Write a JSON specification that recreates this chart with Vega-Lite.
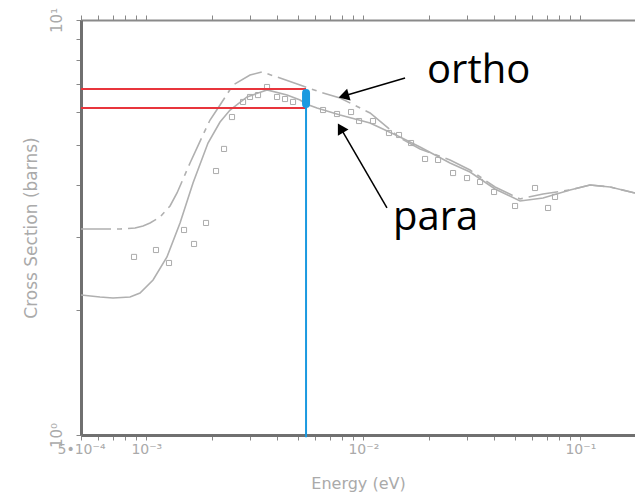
{
  "$schema": "https://vega.github.io/schema/vega-lite/v6.json",
  "width": 554,
  "height": 415,
  "autosize": {"type": "none"},
  "padding": {"left": 81, "top": 20, "right": 0, "bottom": 63},
  "background": "white",
  "config": {"view": {"stroke": null}},
  "datasets": {
    "ortho": [
      {"E": 0.0005, "sigma": 3.136}, {"E": 0.0006117, "sigma": 3.136}, {"E": 0.0007563, "sigma": 3.136},
      {"E": 0.000887, "sigma": 3.154}, {"E": 0.0009656, "sigma": 3.189}, {"E": 0.00104, "sigma": 3.243},
      {"E": 0.001156, "sigma": 3.352}, {"E": 0.001286, "sigma": 3.563}, {"E": 0.001385, "sigma": 3.83},
      {"E": 0.00159, "sigma": 4.523}, {"E": 0.001806, "sigma": 5.226}, {"E": 0.001966, "sigma": 5.741},
      {"E": 0.002186, "sigma": 6.24}, {"E": 0.002509, "sigma": 6.973}, {"E": 0.003005, "sigma": 7.369},
      {"E": 0.003414, "sigma": 7.493}, {"E": 0.004003, "sigma": 7.288}, {"E": 0.00511, "sigma": 6.973},
      {"E": 0.006317, "sigma": 6.707}, {"E": 0.00781, "sigma": 6.486}, {"E": 0.01074, "sigma": 5.97},
      {"E": 0.01476, "sigma": 5.196}, {"E": 0.01825, "sigma": 4.89}, {"E": 0.02509, "sigma": 4.6},
      {"E": 0.03102, "sigma": 4.351}, {"E": 0.04046, "sigma": 3.959}, {"E": 0.05274, "sigma": 3.705},
      {"E": 0.06732, "sigma": 3.809}, {"E": 0.08964, "sigma": 3.894}, {"E": 0.1108, "sigma": 4.004},
      {"E": 0.1371, "sigma": 3.959}, {"E": 0.1786, "sigma": 3.83}
    ],
    "para": [
      {"E": 0.0005, "sigma": 2.175}, {"E": 0.0006117, "sigma": 2.151}, {"E": 0.0007022, "sigma": 2.139},
      {"E": 0.0008411, "sigma": 2.151}, {"E": 0.0009354, "sigma": 2.199}, {"E": 0.001074, "sigma": 2.363},
      {"E": 0.001245, "sigma": 2.686}, {"E": 0.00143, "sigma": 3.243}, {"E": 0.001641, "sigma": 4.049},
      {"E": 0.001924, "sigma": 5.053}, {"E": 0.002186, "sigma": 5.677}, {"E": 0.002431, "sigma": 6.069},
      {"E": 0.002911, "sigma": 6.524}, {"E": 0.003599, "sigma": 6.784}, {"E": 0.004451, "sigma": 6.594},
      {"E": 0.00511, "sigma": 6.415}, {"E": 0.005445, "sigma": 6.274}, {"E": 0.006118, "sigma": 6.137},
      {"E": 0.00781, "sigma": 5.902}, {"E": 0.01074, "sigma": 5.646}, {"E": 0.01476, "sigma": 5.226},
      {"E": 0.01825, "sigma": 4.943}, {"E": 0.02509, "sigma": 4.523}, {"E": 0.03102, "sigma": 4.302},
      {"E": 0.04046, "sigma": 3.915}, {"E": 0.05274, "sigma": 3.664}, {"E": 0.06732, "sigma": 3.725},
      {"E": 0.08964, "sigma": 3.894}, {"E": 0.1108, "sigma": 4.004}, {"E": 0.1371, "sigma": 3.959},
      {"E": 0.1786, "sigma": 3.83}
    ],
    "measured": [
      {"E": 0.0008777, "sigma": 2.686}, {"E": 0.001108, "sigma": 2.791}, {"E": 0.001272, "sigma": 2.597},
      {"E": 0.001492, "sigma": 3.119}, {"E": 0.001659, "sigma": 2.886}, {"E": 0.001884, "sigma": 3.243},
      {"E": 0.002095, "sigma": 4.326}, {"E": 0.002281, "sigma": 4.89}, {"E": 0.002482, "sigma": 5.837},
      {"E": 0.002791, "sigma": 6.346}, {"E": 0.003005, "sigma": 6.524}, {"E": 0.003271, "sigma": 6.594},
      {"E": 0.003599, "sigma": 6.895}, {"E": 0.004003, "sigma": 6.524}, {"E": 0.004357, "sigma": 6.45},
      {"E": 0.004743, "sigma": 6.346}, {"E": 0.006521, "sigma": 6.069}, {"E": 0.007565, "sigma": 5.936},
      {"E": 0.008777, "sigma": 6.002}, {"E": 0.009555, "sigma": 5.709}, {"E": 0.01108, "sigma": 5.709},
      {"E": 0.01313, "sigma": 5.342}, {"E": 0.0146, "sigma": 5.283}, {"E": 0.01659, "sigma": 5.053},
      {"E": 0.01925, "sigma": 4.625}, {"E": 0.0221, "sigma": 4.6}, {"E": 0.02591, "sigma": 4.278},
      {"E": 0.03005, "sigma": 4.161}, {"E": 0.03451, "sigma": 4.071}, {"E": 0.04003, "sigma": 3.851},
      {"E": 0.05002, "sigma": 3.563}, {"E": 0.06183, "sigma": 3.937}, {"E": 0.071, "sigma": 3.524},
      {"E": 0.07644, "sigma": 3.747}
    ],
    "redlines": [
      {"E": 0.0005, "E2": 0.005445, "sigma": 6.82},
      {"E": 0.0005, "E2": 0.005445, "sigma": 6.137}
    ],
    "blueline": [{"E": 0.005445, "sigma": 0.988, "sigma2": 6.6}],
    "bluebar": [{"E": 0.005445, "sigma": 6.274, "sigma2": 6.67}],
    "arrows": [
      {"name": "ortho", "E": 0.01557, "sigma": 7.25, "E2": 0.008124, "sigma2": 6.559},
      {"name": "para", "E": 0.01285, "sigma": 3.524, "E2": 0.007851, "sigma2": 5.493}
    ],
    "headOrtho": [{"E": 0.008124, "sigma": 6.559}],
    "headPara": [{"E": 0.007851, "sigma": 5.493}],
    "labels": [
      {"label": "ortho", "E": 0.01966, "sigma": 7.051},
      {"label": "para", "E": 0.01371, "sigma": 3.119}
    ]
  },
  "layer": [
    {
      "data": {"name": "ortho"},
      "mark": {"type": "line", "color": "#b0b0b0", "strokeWidth": 1.6, "strokeDash": [30, 6, 5, 6], "clip": true},
      "encoding": {
        "x": {
          "field": "E", "type": "quantitative",
          "scale": {"type": "log", "domain": [0.0005, 0.1786], "nice": false},
          "axis": {
            "orient": "bottom",
            "values": [0.0005, 0.0006, 0.0007, 0.0008, 0.0009, 0.001, 0.002, 0.003, 0.004, 0.005, 0.006, 0.007, 0.008, 0.009, 0.01, 0.02, 0.03, 0.04, 0.05, 0.06, 0.07, 0.08, 0.09, 0.1],
            "labelExpr": "abs(datum.value-0.0005)<1e-9 ? '5•10⁻⁴' : abs(datum.value-0.001)<1e-9 ? '10⁻³' : abs(datum.value-0.01)<1e-9 ? '10⁻²' : abs(datum.value-0.1)<1e-9 ? '10⁻¹' : ''",
            "labelFlush": false, "labelOverlap": false,
            "labelFont": "DejaVu Sans", "labelFontSize": 14, "labelColor": "#aaaaaa", "labelPadding": 2,
            "tickColor": "#888888", "tickSize": 5, "tickWidth": 1,
            "domainColor": "#707070", "domainWidth": 3,
            "grid": false,
            "title": "Energy (eV)", "titleFont": "DejaVu Sans", "titleFontSize": 16, "titleFontWeight": "normal",
            "titleColor": "#aaaaaa", "titlePadding": 19
          }
        },
        "y": {
          "field": "sigma", "type": "quantitative",
          "scale": {"type": "log", "domain": [1, 10], "nice": false},
          "axis": {
            "orient": "left",
            "values": [1, 2, 3, 4, 5, 6, 7, 8, 9, 10],
            "labelExpr": "datum.value == 1 ? '10⁰' : datum.value == 10 ? '10¹' : ''",
            "labelOverlap": false, "labelFlush": false,
            "labelAngle": -90, "labelAlign": "center", "labelBaseline": "bottom",
            "labelFont": "DejaVu Sans", "labelFontSize": 15, "labelColor": "#aaaaaa", "labelPadding": 12,
            "tickColor": "#888888", "tickSize": 5, "tickWidth": 1,
            "domainColor": "#707070", "domainWidth": 3,
            "grid": false,
            "title": "Cross Section (barns)", "titleFont": "DejaVu Sans", "titleFontSize": 17, "titleFontWeight": "normal",
            "titleColor": "#aaaaaa", "titlePadding": 9
          }
        }
      }
    },
    {
      "data": {"name": "para"},
      "mark": {"type": "line", "color": "#b0b0b0", "strokeWidth": 1.6, "clip": true},
      "encoding": {
        "x": {
          "field": "E", "type": "quantitative",
          "axis": {
            "orient": "top",
            "values": [0.0005, 0.0006, 0.0007, 0.0008, 0.0009, 0.001, 0.002, 0.003, 0.004, 0.005, 0.006, 0.007, 0.008, 0.009, 0.01, 0.02, 0.03, 0.04, 0.05, 0.06, 0.07, 0.08, 0.09, 0.1],
            "labels": false, "title": null, "grid": false,
            "tickColor": "#888888", "tickSize": 5, "tickWidth": 1,
            "domainColor": "#8a8a8a", "domainWidth": 2
          }
        },
        "y": {"field": "sigma", "type": "quantitative", "axis": null}
      }
    },
    {
      "data": {"name": "measured"},
      "mark": {"type": "point", "shape": "square", "filled": false, "size": 26, "stroke": "#acacac", "strokeWidth": 1, "opacity": 1},
      "encoding": {
        "x": {"field": "E", "type": "quantitative", "axis": null},
        "y": {"field": "sigma", "type": "quantitative", "axis": null}
      }
    },
    {
      "data": {"name": "redlines"},
      "mark": {"type": "rule", "color": "#e8353c", "strokeWidth": 2},
      "encoding": {
        "x": {"field": "E", "type": "quantitative", "axis": null},
        "x2": {"field": "E2"},
        "y": {"field": "sigma", "type": "quantitative", "axis": null}
      }
    },
    {
      "data": {"name": "blueline"},
      "mark": {"type": "rule", "color": "#1b9ae0", "strokeWidth": 2},
      "encoding": {
        "x": {"field": "E", "type": "quantitative", "axis": null},
        "y": {"field": "sigma", "type": "quantitative", "axis": null},
        "y2": {"field": "sigma2"}
      }
    },
    {
      "data": {"name": "bluebar"},
      "mark": {"type": "rule", "color": "#1b9ae0", "strokeWidth": 8, "strokeCap": "round"},
      "encoding": {
        "x": {"field": "E", "type": "quantitative", "axis": null},
        "y": {"field": "sigma", "type": "quantitative", "axis": null},
        "y2": {"field": "sigma2"}
      }
    },
    {
      "data": {"name": "arrows"},
      "mark": {"type": "rule", "color": "#000000", "strokeWidth": 1.5},
      "encoding": {
        "x": {"field": "E", "type": "quantitative", "axis": null},
        "x2": {"field": "E2"},
        "y": {"field": "sigma", "type": "quantitative", "axis": null},
        "y2": {"field": "sigma2"}
      }
    },
    {
      "data": {"name": "headOrtho"},
      "mark": {"type": "point", "shape": "triangle-up", "filled": true, "color": "#000000", "size": 150, "angle": 253.6, "opacity": 1},
      "encoding": {
        "x": {"field": "E", "type": "quantitative", "axis": null},
        "y": {"field": "sigma", "type": "quantitative", "axis": null}
      }
    },
    {
      "data": {"name": "headPara"},
      "mark": {"type": "point", "shape": "triangle-up", "filled": true, "color": "#000000", "size": 150, "angle": 329.8, "opacity": 1},
      "encoding": {
        "x": {"field": "E", "type": "quantitative", "axis": null},
        "y": {"field": "sigma", "type": "quantitative", "axis": null}
      }
    },
    {
      "data": {"name": "labels"},
      "mark": {"type": "text", "font": "Open Sans", "fontSize": 40, "color": "#000000", "align": "left", "baseline": "alphabetic"},
      "encoding": {
        "x": {"field": "E", "type": "quantitative", "axis": null},
        "y": {"field": "sigma", "type": "quantitative", "axis": null},
        "text": {"field": "label"}
      }
    }
  ],
  "resolve": {"axis": {"x": "independent", "y": "independent"}}
}
